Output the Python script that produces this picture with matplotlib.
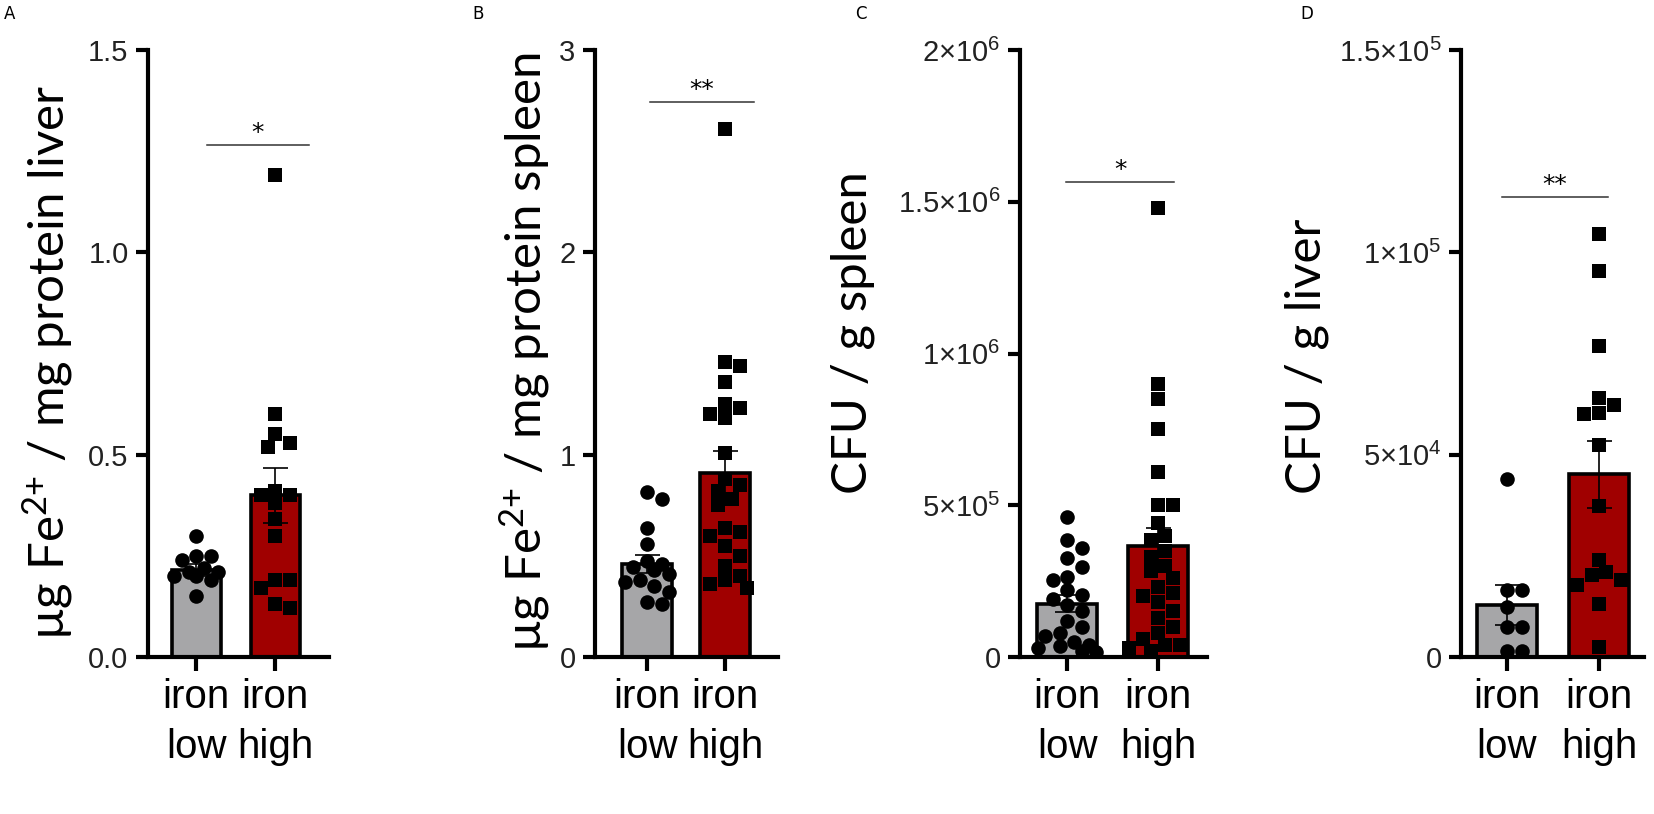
import numpy as np
import matplotlib.pyplot as plt
from matplotlib.transforms import blended_transform_factory

groups = ["iron\nlow", "iron\nhigh"]

# A: liver iron
liver_fe_low = [0.30, 0.25, 0.25, 0.24, 0.22, 0.21, 0.21, 0.20, 0.19, 0.15, 0.20]
liver_fe_high = [1.19, 0.60, 0.55, 0.53, 0.52, 0.40, 0.41, 0.40, 0.38, 0.34, 0.30,
                 0.19, 0.19, 0.17, 0.13, 0.12]
liver_fe_mean = [0.216, 0.40]
liver_fe_sem = [0.015, 0.068]

# B: spleen iron
spleen_fe_low = [0.815, 0.78, 0.64, 0.56, 0.475, 0.46, 0.445, 0.43, 0.41, 0.38,
                 0.37, 0.35, 0.32, 0.27, 0.26]
spleen_fe_high = [2.61, 1.46, 1.44, 1.36, 1.25, 1.23, 1.20, 1.18, 1.01, 0.88, 0.85,
                  0.82, 0.78, 0.75, 0.64, 0.62, 0.60, 0.55, 0.50, 0.45, 0.40, 0.38,
                  0.36, 0.34]
spleen_fe_mean = [0.46, 0.91]
spleen_fe_sem = [0.045, 0.11]

# C: CFU spleen
spleen_cfu_low = [4.6e5, 3.85e5, 3.6e5, 3.25e5, 2.95e5, 2.65e5, 2.55e5, 2.2e5, 2.05e5,
                  1.9e5, 1.7e5, 1.5e5, 1.2e5, 1.0e5, 0.8e5, 0.7e5, 0.5e5, 0.4e5,
                  0.35e5, 0.3e5, 0.2e5, 0.15e5]
spleen_cfu_high = [14.8e5, 9.0e5, 8.5e5, 7.5e5, 6.1e5, 5.0e5, 5.0e5, 4.4e5, 4.0e5,
                   3.85e5, 3.5e5, 3.3e5, 3.0e5, 2.85e5, 2.6e5, 2.3e5, 2.1e5, 2.0e5,
                   1.8e5, 1.5e5, 1.3e5, 1.0e5, 0.8e5, 0.6e5, 0.4e5, 0.4e5, 0.3e5, 0.2e5]
spleen_cfu_mean = [1.75e5, 3.65e5]
spleen_cfu_sem = [0.28e5, 0.6e5]

# D: CFU liver
liver_cfu_low = [44000, 16500, 16500, 12300, 7400, 7400, 1500, 1500]
liver_cfu_high = [104500, 95300, 76800, 63900, 62300, 60300, 60100, 52300, 37300,
                  23900, 21100, 20300, 19100, 17900, 13100, 2500]
liver_cfu_mean = [12800, 45100]
liver_cfu_sem = [5000, 8200]

W, H = 1654, 814
GRAY = "#a6a6a8"
RED = "#a00000"
LABEL_FONT = ["Lato", "DejaVu Sans"]
TICK_FONT = ["Liberation Sans", "DejaVu Sans"]

plt.rcParams["mathtext.default"] = "regular"

fig = plt.figure(figsize=(W / 100, H / 100), dpi=100)


def swarm_x(ax, x0, vals, diam, half):
    tr = ax.transData
    pix = tr.transform(np.column_stack([np.full(len(vals), x0), vals]))
    cx = pix[0, 0]
    step = diam * 0.5
    cands = [0.0]
    for k in range(1, int(half // step) + 1):
        cands += [k * step, -k * step]
    placed = []
    off = np.zeros(len(vals))
    for i in np.argsort(-np.asarray(vals)):
        y = pix[i, 1]
        best, best_d = 0.0, -1
        for c in cands:
            d = min((np.hypot(cx + c - px, y - py) for px, py in placed), default=1e9)
            if d >= diam * 0.9:
                best = c
                break
            if d > best_d:
                best, best_d = c, d
        placed.append((cx + best, y))
        off[i] = best
    return tr.inverted().transform(np.column_stack([cx + off, pix[:, 1]]))[:, 0]


panels = [
    dict(letter="A", lx=4, low=liver_fe_low, high=liver_fe_high, mean=liver_fe_mean,
         sem=liver_fe_sem, ax_px=(148, 329), xlim=(-0.61, 1.68), bw=0.62,
         ylim=1.5, ticks=[0, 0.5, 1.0, 1.5], tlabels=["0.0", "0.5", "1.0", "1.5"],
         ylabel="µg Fe$^{2{+}}$ / mg protein liver", yl_pos=(48, 362),
         sig=1.265, sig_span=(0.326, 0.889), stars="*"),
    dict(letter="B", lx=472, low=spleen_fe_low, high=spleen_fe_high, mean=spleen_fe_mean,
         sem=spleen_fe_sem, ax_px=(595, 778), xlim=(-0.67, 1.68), bw=0.64,
         ylim=3, ticks=[0, 1, 2, 3], tlabels=["0", "1", "2", "3"],
         ylabel="µg Fe$^{2{+}}$ / mg protein spleen", yl_pos=(524, 352),
         sig=2.745, sig_span=(0.30, 0.869), stars="**"),
    dict(letter="C", lx=855, low=spleen_cfu_low, high=spleen_cfu_high, mean=spleen_cfu_mean,
         sem=spleen_cfu_sem, ax_px=(1020, 1207), xlim=(-0.52, 1.54), bw=0.66,
         ylim=2e6, ticks=[0, 5e5, 1e6, 1.5e6, 2e6],
         tlabels=["0", "5×10$^{5}$", "1×10$^{6}$", "1.5×10$^{6}$", "2×10$^{6}$"],
         ylabel="CFU / g spleen", yl_pos=(853, 333),
         sig=1.565e6, sig_span=(0.246, 0.824), stars="*"),
    dict(letter="D", lx=1300, low=liver_cfu_low, high=liver_cfu_high, mean=liver_cfu_mean,
         sem=liver_cfu_sem, ax_px=(1461, 1644), xlim=(-0.5, 1.49), bw=0.65,
         ylim=1.5e5, ticks=[0, 5e4, 1e5, 1.5e5],
         tlabels=["0", "5×10$^{4}$", "1×10$^{5}$", "1.5×10$^{5}$"],
         ylabel="CFU / g liver", yl_pos=(1307, 356),
         sig=1.137e5, sig_span=(0.224, 0.803), stars="**"),
]

top, bottom = 50, 657
ms = 10.5
diam = ms * 100 / 72

for p in panels:
    l, r = p["ax_px"]
    ax = fig.add_axes([l / W, 1 - bottom / H, (r - l) / W, (bottom - top) / H])
    ax.set_xlim(*p["xlim"])
    ax.set_ylim(0, p["ylim"])
    x = np.arange(2)
    ax.bar(x, p["mean"], width=p["bw"], color=[GRAY, RED], edgecolor="black",
           linewidth=2.6, zorder=1)
    half = p["bw"] / 2 * (ax.transData.transform((1, 0))[0] - ax.transData.transform((0, 0))[0])
    for xi, vals, mk in [(0, p["low"], "o"), (1, p["high"], "s")]:
        xs = swarm_x(ax, xi, vals, diam, half)
        ax.plot(xs, vals, ls="none", marker=mk, ms=ms, color="black", mew=0, zorder=2)
    ax.errorbar(x, p["mean"], yerr=p["sem"], fmt="none", ecolor="black", elinewidth=1.2,
                capsize=9, capthick=1.2, zorder=3)

    for s in ["top", "right"]:
        ax.spines[s].set_visible(False)
    for s in ["left", "bottom"]:
        ax.spines[s].set_linewidth(3)
    ax.set_yticks(p["ticks"])
    ax.set_yticklabels(p["tlabels"], family=TICK_FONT)
    ax.set_xticks(x)
    ax.set_xticklabels(groups, family=TICK_FONT)
    ax.tick_params(axis="y", length=9, width=3, labelsize=21, pad=5, labelcolor="#222222")
    ax.tick_params(axis="x", length=10, width=3, labelsize=29, pad=5)
    for t in ax.get_xticklabels():
        t.set_linespacing(1.4)

    tr = blended_transform_factory(ax.transAxes, ax.transData)
    a, b = p["sig_span"]
    ax.plot([a, b], [p["sig"], p["sig"]], color="#333333", lw=1.1, transform=tr,
            clip_on=False)
    ax.text((a + b) / 2, p["sig"], p["stars"], transform=tr, ha="center",
            va="bottom", fontsize=18)

    fig.text(p["yl_pos"][0] / W, 1 - p["yl_pos"][1] / H, p["ylabel"], rotation=90,
             ha="center", va="center", fontsize=35.5, family=LABEL_FONT)
    fig.text(p["lx"] / W, 1 - 14 / H, p["letter"], ha="left", va="center", fontsize=12)

fig.savefig("out.png", dpi=100)
